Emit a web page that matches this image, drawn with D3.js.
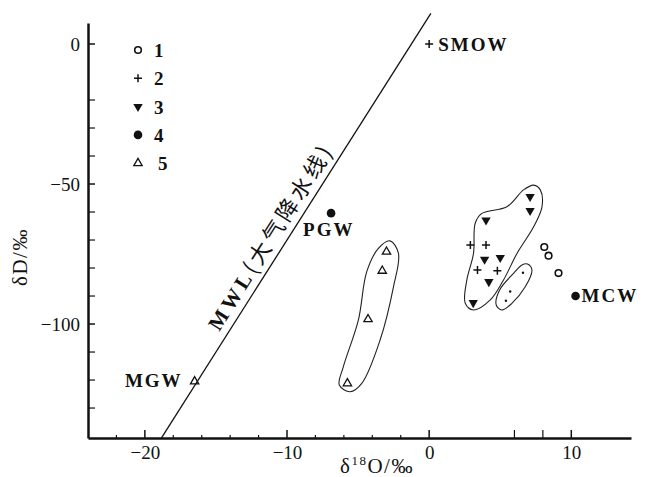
<!DOCTYPE html>
<html>
<head>
<meta charset="utf-8">
<script src="https://cdn.jsdelivr.net/npm/d3@7"></script>
<style>
    body { margin: 0; background: #fff; }
    svg text { font-family: "Liberation Serif", "DejaVu Serif", serif; fill: #111; }
</style>
</head>
<body>
<svg id="chart" width="645" height="477"></svg>
<script>
// data (δ18O, δD)
var openCircles = [[8.1, -72.5], [8.4, -75.6], [9.1, -81.8]];
var plusPoints = [[2.9, -71.8], [4.0, -71.8], [3.4, -80.7], [4.8, -81.0]];
var downTriangles = [[7.1, -54.5], [7.1, -59.5], [4.0, -62.9], [3.9, -76.9], [5.0, -76.3], [4.2, -84.9], [3.1, -92.4]];
var upTriangles = [[-3.0, -74.2], [-3.3, -81.0], [-4.3, -98.3], [-5.75, -121.2]];
var smallDots = [[6.6, -81.7], [5.7, -88.4], [5.4, -91.7]];
var namedPoints = [
    {name: 'SMOW', x: 0, y: 0, type: 'plus'},
    {name: 'PGW', x: -6.9, y: -60.4, type: 'dot'},
    {name: 'MCW', x: 10.3, y: -90.0, type: 'dot'},
    {name: 'MGW', x: -16.5, y: -120.5, type: 'tri'}
];
var legendLabels = ['1', '2', '3', '4', '5'];
var xMajorTicks = [-20, -10, 0, 10];
var xMinorTicks = [-22, -18, -16, -14, -12, -8, -6, -4, -2, 6, 8];
var yMajorTicks = [0, -50, -100];
var yMinorTicks = [-20, -30, -40, -60, -70, -80, -90, -110, -120, -130];

// hand drawn envelopes
var outlineA = [[-2.75, -70.3], [-2.16, -74.8], [-2.51, -86.7], [-3.45, -105.7], [-4.74, -121.2], [-5.56, -124.2],
    [-6.32, -121.8], [-6.04, -115.3], [-4.98, -98.6], [-4.39, -81.3], [-3.57, -73.0]];
var outlineB = [[7.35, -50.4], [7.82, -52.1], [7.94, -58.1], [7.35, -65.3], [6.18, -74.8], [5.23, -84.3], [4.30, -91.4],
    [3.12, -95.0], [2.54, -92.6], [2.65, -84.3], [3.12, -74.8], [3.24, -64.0], [3.71, -60.5], [5.47, -58.1], [6.64, -52.1]];
var outlineC = [[6.92, -78.6], [7.23, -80.7], [6.76, -86.7], [5.82, -92.6], [5.12, -95.0], [4.72, -93.2], [4.95, -87.9],
    [5.94, -81.9], [6.53, -78.9]];

// MWL: δD = 8 δ18O + 10
var mwlX = [-18.84, 0.12];

var svg = d3.select('#chart');

var x = d3.scaleLinear().domain([-24, 14.2]).range([88, 631]);
var y = d3.scaleLinear().domain([7.5, -140.7]).range([23, 438]);

function fmt(d) {
    return d < 0 ? '\u2212' + Math.abs(d) : d;
}

// axes
var xAxis = svg.append('g')
    .attr('transform', 'translate(0,' + y(-140.7) + ')')
    .call(d3.axisBottom(x).tickValues(xMajorTicks).tickSize(0).tickPadding(8).tickFormat(fmt));
xAxis.select('.domain').attr('stroke', '#111').attr('stroke-width', 2.5);
xAxis.selectAll('text').attr('font-size', 19).style('font-family', '"Liberation Serif", serif');

xAxis.selectAll('.major')
    .data(xMajorTicks)
    .enter()
    .append('line')
    .attr('x1', function(d) { return x(d); })
    .attr('x2', function(d) { return x(d); })
    .attr('y1', 0).attr('y2', -8)
    .attr('stroke', '#111').attr('stroke-width', 1.5);
xAxis.selectAll('.minor')
    .data(xMinorTicks)
    .enter()
    .append('line')
    .attr('x1', function(d) { return x(d); })
    .attr('x2', function(d) { return x(d); })
    .attr('y1', 0).attr('y2', function(d) { return d > 0 ? -8 : -3; })
    .attr('stroke', '#111').attr('stroke-width', 1.2);

var yAxis = svg.append('g')
    .attr('transform', 'translate(' + x(-24) + ',0)')
    .call(d3.axisLeft(y).tickValues(yMajorTicks).tickSize(0).tickPadding(8).tickFormat(fmt));
yAxis.select('.domain').attr('stroke', '#111').attr('stroke-width', 2.5);
yAxis.selectAll('text').attr('font-size', 19).style('font-family', '"Liberation Serif", serif');

yAxis.selectAll('.major')
    .data(yMajorTicks)
    .enter()
    .append('line')
    .attr('y1', function(d) { return y(d); })
    .attr('y2', function(d) { return y(d); })
    .attr('x1', 0).attr('x2', 7)
    .attr('stroke', '#111').attr('stroke-width', 1.5);
yAxis.selectAll('.minor')
    .data(yMinorTicks)
    .enter()
    .append('line')
    .attr('y1', function(d) { return y(d); })
    .attr('y2', function(d) { return y(d); })
    .attr('x1', 0).attr('x2', 7)
    .attr('stroke', '#111').attr('stroke-width', 1.2);

// axis titles
var xTitle = svg.append('text')
    .attr('x', 377).attr('y', 473)
    .attr('text-anchor', 'middle')
    .attr('font-size', 21)
    .attr('letter-spacing', 1.5);
xTitle.append('tspan').text('\u03b4');
xTitle.append('tspan').attr('font-size', 13).attr('dy', -8).text('18');
xTitle.append('tspan').attr('dy', 8).text('O/\u2030');

svg.append('text')
    .attr('transform', 'translate(27,257) rotate(-90)')
    .attr('text-anchor', 'middle')
    .attr('font-size', 21)
    .attr('letter-spacing', 1.5)
    .text('\u03b4D/\u2030');

// MWL line
svg.append('line')
    .attr('x1', x(mwlX[0])).attr('y1', y(8 * mwlX[0] + 10))
    .attr('x2', x(mwlX[1])).attr('y2', y(8 * mwlX[1] + 10))
    .attr('stroke', '#111').attr('stroke-width', 1.3);

var ang = Math.atan2(y(-50) - y(-130), x(-7.5) - x(-17.5)) * 180 / Math.PI;
var rad = ang * Math.PI / 180;
var sx = x(-14.3), sy = y(8 * -14.3 + 10);
svg.append('text')
    .attr('transform', 'translate(' + (sx + 8 * Math.sin(rad)) + ',' + (sy - 8 * Math.cos(rad)) + ') rotate(' + ang + ')')
    .attr('font-size', 21)
    .attr('font-weight', 'bold')
    .attr('letter-spacing', 4)
    .html('MWL<tspan style="font-family:\'Noto Sans CJK SC\'" font-size="22" font-weight="normal" letter-spacing="3.5">(大气降水线)</tspan>');

// envelopes
var outline = d3.line()
    .x(function(d) { return x(d[0]); })
    .y(function(d) { return y(d[1]); })
    .curve(d3.curveCatmullRomClosed.alpha(0.5));

[outlineA, outlineB, outlineC].forEach(function(o) {
    svg.append('path')
        .attr('d', outline(o))
        .attr('fill', 'none')
        .attr('stroke', '#222')
        .attr('stroke-width', 1.1);
});

// symbol helpers
function drawSymbol(g, type, px, py) {
    if (type === 'open') {
        g.append('circle').attr('cx', px).attr('cy', py).attr('r', 3.3)
            .attr('fill', 'none').attr('stroke', '#111').attr('stroke-width', 1.6);
    } else if (type === 'plus') {
        g.append('path').attr('d', 'M' + (px - 4) + ',' + py + 'H' + (px + 4) + 'M' + px + ',' + (py - 4) + 'V' + (py + 4))
            .attr('stroke', '#111').attr('stroke-width', 1.5);
    } else if (type === 'down') {
        g.append('path').attr('d', d3.symbol().type(d3.symbolTriangle).size(38)())
            .attr('transform', 'translate(' + px + ',' + py + ') rotate(180)')
            .attr('fill', '#111');
    } else if (type === 'dot') {
        g.append('circle').attr('cx', px).attr('cy', py).attr('r', 4.3).attr('fill', '#111');
    } else if (type === 'tri') {
        g.append('path').attr('d', d3.symbol().type(d3.symbolTriangle).size(30)())
            .attr('transform', 'translate(' + px + ',' + py + ')')
            .attr('fill', 'none').attr('stroke', '#111').attr('stroke-width', 1.3);
    } else if (type === 'small') {
        g.append('circle').attr('cx', px).attr('cy', py).attr('r', 1.2).attr('fill', '#111');
    }
}

var marks = svg.append('g');
openCircles.forEach(function(d) { drawSymbol(marks, 'open', x(d[0]), y(d[1])); });
plusPoints.forEach(function(d) { drawSymbol(marks, 'plus', x(d[0]), y(d[1])); });
downTriangles.forEach(function(d) { drawSymbol(marks, 'down', x(d[0]), y(d[1])); });
upTriangles.forEach(function(d) { drawSymbol(marks, 'tri', x(d[0]), y(d[1])); });
smallDots.forEach(function(d) { drawSymbol(marks, 'small', x(d[0]), y(d[1])); });

// named points
var labelPos = {
    SMOW: [9, 7, 'start'],
    PGW: [-28, 23, 'start'],
    MCW: [6, 6, 'start'],
    MGW: [-12, 6, 'end']
};
namedPoints.forEach(function(d) {
    drawSymbol(marks, d.type, x(d.x), y(d.y));
    var p = labelPos[d.name];
    svg.append('text')
        .attr('x', x(d.x) + p[0])
        .attr('y', y(d.y) + p[1])
        .attr('text-anchor', p[2])
        .attr('font-size', 19)
        .attr('font-weight', 'bold')
        .attr('letter-spacing', 2)
        .text(d.name);
});

// legend
var legendTypes = ['open', 'plus', 'down', 'dot', 'tri'];
var legend = svg.append('g');
legendLabels.forEach(function(l, i) {
    var ly = 50 + i * 28.3;
    drawSymbol(legend, legendTypes[i], 138, ly);
    legend.append('text')
        .attr('x', i === 4 ? 158 : 154)
        .attr('y', ly + 7)
        .attr('font-size', 19)
        .attr('font-weight', 'bold')
        .text(l);
});
</script>
</body>
</html>
